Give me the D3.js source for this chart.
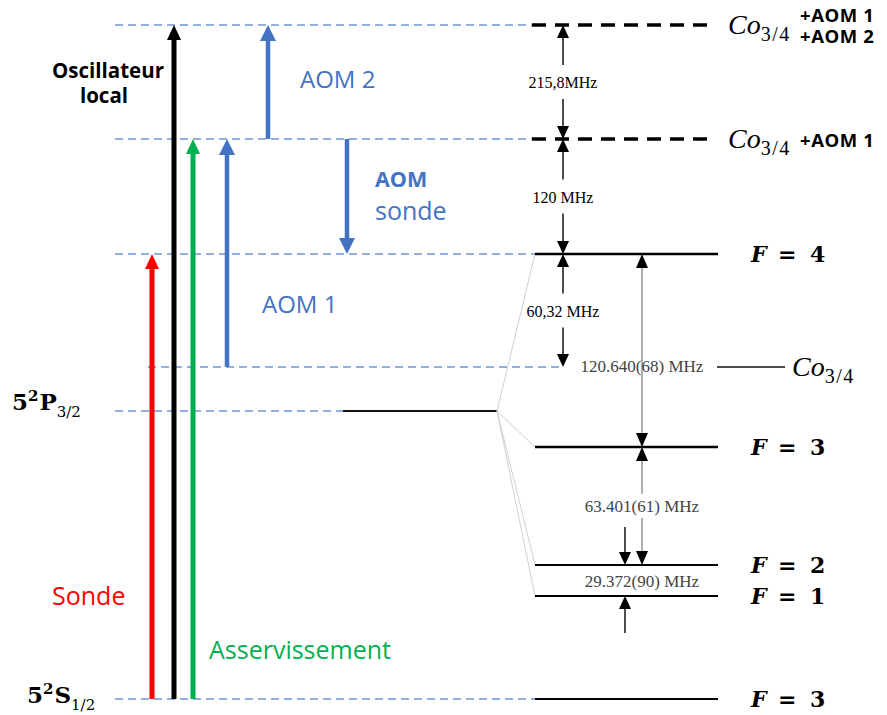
<!DOCTYPE html>
<html>
<head>
<meta charset="utf-8">
<script src="https://cdn.jsdelivr.net/npm/d3@7"></script>
<style>
  body { margin: 0; background: #fff; }
  svg { display: block; }
</style>
</head>
<body>
<svg></svg>
<script>

// energies, arbitrary units (ground state = 0)
const levelKeys   = ["coAom12", "coAom1", "f4", "co34", "p32", "f3", "f2", "f1", "s12"]
const levelEnergy = [674, 560, 445, 332, 288, 252, 134, 103, 0]
const E = Object.fromEntries(levelKeys.map((k, i) => [k, levelEnergy[i]]))

// lasers starting from the ground state
const beamNames  = ["Sonde", "Oscillateur local", "Asservissement"]
const beamTarget = ["f4", "coAom12", "coAom1"]

// AOM shifts
const aomNames = ["AOM 1", "AOM 2", "AOM sonde"]
const aomFrom  = ["co34", "coAom1", "coAom1"]
const aomTo    = ["coAom1", "coAom12", "f4"]

// hyperfine levels on the right
const hfLevels = ["f4", "f3", "f2", "f1", "s12"]
const hfValue  = ["4", "3", "2", "1", "3"]
const shiftedLevels = ["coAom12", "coAom1"]

// splittings
const gapLabels = ["215,8MHz", "120 MHz", "60,32 MHz"]
const gapLow    = ["coAom1", "f4", "co34"]
const gapHigh   = ["coAom12", "coAom1", "f4"]
const hfGapLabels = ["120.640(68) MHz", "63.401(61) MHz", "29.372(90) MHz"]

const margin = {top: 25, bottom: 16}
const width = 887, height = 715

const svg = d3.select("svg").attr("width", width).attr("height", height)

const y = d3.scaleLinear()
  .domain([0, d3.max(levelEnergy)])
  .range([height - margin.bottom, margin.top])

const blue = "#4472c4", guide = "#7094d6"
const sans = "'Open Sans', sans-serif"
const serif = "'Liberation Serif', serif"
const tex = "'DejaVu Serif', serif"

// columns (layout)
const col = {
  guide0: 115, guide1: 535, lvl0: 535, lvl1: 718,
  beams: [152, 174, 193], aoms: [227, 268, 347],
  gap: 563, hf: 642, hfSmall: 625, fLabel: 751, coLabel: 728
}

function arrow(g, x, y0, y1, o) {
  const dir = y1 < y0 ? -1 : 1
  const base = y1 - dir * o.head
  g.append("line")
    .attr("x1", x).attr("x2", x)
    .attr("y1", y0).attr("y2", base + dir * 0.5)
    .attr("stroke", o.line || o.color)
    .attr("stroke-width", o.width)
  g.append("path")
    .attr("d", `M${x},${y1}L${x - o.headW / 2},${base}L${x + o.headW / 2},${base}Z`)
    .attr("fill", o.color)
}

// blue dashed guides
const guides = [
  {k: "coAom12", x0: col.guide0, x1: col.guide1},
  {k: "coAom1", x0: col.guide0, x1: col.guide1},
  {k: "f4", x0: col.guide0, x1: col.guide1},
  {k: "co34", x0: 148, x1: col.gap},
  {k: "p32", x0: col.guide0, x1: 343},
  {k: "s12", x0: col.guide0, x1: col.guide1}
]
svg.append("g").selectAll("line").data(guides).join("line")
  .attr("x1", d => d.x0).attr("x2", d => d.x1)
  .attr("y1", d => y(E[d.k])).attr("y2", d => y(E[d.k]))
  .attr("stroke", guide).attr("stroke-width", 1.4)
  .attr("stroke-dasharray", "8,5")

// 5P3/2 centroid and fan to hyperfine levels
svg.append("line")
  .attr("x1", 343).attr("x2", 497)
  .attr("y1", y(E.p32)).attr("y2", y(E.p32))
  .attr("stroke", "#111").attr("stroke-width", 2)
svg.append("g").selectAll("line").data(["f4", "f3", "f2", "f1"]).join("line")
  .attr("x1", 497).attr("y1", y(E.p32))
  .attr("x2", col.lvl0).attr("y2", d => y(E[d]))
  .attr("stroke", "#cfcfcf").attr("stroke-width", 1)

// hyperfine levels
svg.append("g").selectAll("line").data(hfLevels).join("line")
  .attr("x1", col.lvl0).attr("x2", col.lvl1)
  .attr("y1", d => y(E[d])).attr("y2", d => y(E[d]))
  .attr("stroke", "#000").attr("stroke-width", (d, i) => i < 2 ? 2.6 : 2)

svg.append("g").selectAll("line").data(shiftedLevels).join("line")
  .attr("x1", col.lvl0 - 3).attr("x2", col.lvl1 - 3)
  .attr("y1", d => y(E[d])).attr("y2", d => y(E[d]))
  .attr("stroke", "#000").attr("stroke-width", 3.5)
  .attr("stroke-dasharray", "14,9")

// F = n labels
hfLevels.forEach((k, i) => {
  const t = svg.append("text")
    .attr("y", y(E[k]) + 8)
    .attr("font-family", tex).attr("font-weight", "bold").attr("font-size", 22)
  t.append("tspan").attr("x", col.fLabel).attr("font-style", "italic").text("F")
  t.append("tspan").attr("x", col.fLabel + 27).text("=")
  t.append("tspan").attr("x", col.fLabel + 59).text(hfValue[i])
})

// Co3/4 labels
function coLabel(x, yy) {
  const t = svg.append("text").attr("x", x).attr("y", yy + 9)
    .attr("font-family", serif).attr("font-style", "italic").attr("font-size", 28)
  t.append("tspan").text("Co")
  t.append("tspan").attr("dy", 7).attr("font-size", 20).attr("font-style", "normal")
    .attr("letter-spacing", 1.5).text("3/4")
}
coLabel(col.coLabel, y(E.coAom12))
coLabel(col.coLabel, y(E.coAom1))
coLabel(792, y(E.co34))
svg.append("line")
  .attr("x1", 717).attr("x2", 785)
  .attr("y1", y(E.co34)).attr("y2", y(E.co34))
  .attr("stroke", "#111").attr("stroke-width", 1.5)

// two stacked tags share one text element
const tagTop = svg.append("text")
  .attr("font-family", sans).attr("font-weight", "bold").attr("font-size", 18.5)
  .attr("letter-spacing", 0.6)
tagTop.append("tspan").attr("x", 800).attr("y", y(E.coAom12) - 3).text("+AOM 1")
tagTop.append("tspan").attr("x", 800).attr("y", y(E.coAom12) + 18).text("+AOM 2")
svg.append("text")
  .attr("x", 800).attr("y", y(E.coAom1) + 8)
  .attr("font-family", sans).attr("font-weight", "bold").attr("font-size", 18.5)
  .attr("letter-spacing", 0.6)
  .text("+AOM 1")

// left state labels
function stateLabel(x, yy, L, sub) {
  const t = svg.append("text").attr("x", x).attr("y", yy)
    .attr("font-family", tex).attr("font-weight", "bold").attr("font-size", 23)
  t.append("tspan").text("5")
  t.append("tspan").attr("dy", -9).attr("font-size", 15).text("2")
  t.append("tspan").attr("dy", 9).attr("dx", 1).text(L)
  t.append("tspan").attr("dy", 7).attr("font-size", 15).attr("font-weight", "normal").text(sub)
}
stateLabel(12, y(E.p32) - 1, "P", "3/2")
stateLabel(27, y(E.s12) + 4, "S", "1/2")

// lasers
const beamColors = ["#ff0000", "#000000", "#00b050"]
beamNames.forEach((n, i) => {
  arrow(svg, col.beams[i], y(0), y(E[beamTarget[i]]),
    {color: beamColors[i], width: 5, head: 15, headW: 14})
})
svg.append("text").attr("x", 52).attr("y", 605)
  .attr("font-family", sans).attr("font-size", 25).attr("fill", beamColors[0])
  .text(beamNames[0])
svg.append("text").attr("x", 209).attr("y", 659)
  .attr("font-family", sans).attr("font-size", 25).attr("fill", beamColors[2])
  .text(beamNames[2])
const osc = svg.append("text").attr("text-anchor", "middle")
  .attr("font-family", sans).attr("font-weight", "bold").attr("font-size", 20.5)
osc.append("tspan").attr("x", 108).attr("y", 78).text(beamNames[1].split(" ")[0])
osc.append("tspan").attr("x", 104).attr("y", 103).text(beamNames[1].split(" ")[1])

// AOM arrows
aomNames.forEach((n, i) => {
  arrow(svg, col.aoms[i], y(E[aomFrom[i]]), y(E[aomTo[i]]),
    {color: blue, width: 4.5, head: 16, headW: 16})
})
svg.append("text").attr("x", 262).attr("y", 313)
  .attr("font-family", sans).attr("font-size", 24).attr("fill", blue).text(aomNames[0])
svg.append("text").attr("x", 300).attr("y", 88)
  .attr("font-family", sans).attr("font-size", 24).attr("fill", blue).text(aomNames[1])
const so = svg.append("text").attr("font-family", sans).attr("fill", blue)
so.append("tspan").attr("x", 375).attr("y", 187).attr("font-weight", "bold")
  .attr("font-size", 21.5).text(aomNames[2].split(" ")[0])
so.append("tspan").attr("x", 375).attr("y", 220).attr("font-size", 25)
  .text(aomNames[2].split(" ")[1])

// splittings between the laser frequencies
const blk = {color: "#000", width: 1.4, head: 13, headW: 12}
gapLabels.forEach((lab, i) => {
  const yl = y(E[gapLow[i]]), yh = y(E[gapHigh[i]])
  const mid = (yl + yh) / 2
  arrow(svg, col.gap, mid - 17, yh, blk)
  arrow(svg, col.gap, mid + 17, yl, blk)
  svg.append("text").attr("x", col.gap).attr("y", mid + 6)
    .attr("text-anchor", "middle").attr("font-family", serif).attr("font-size", 16)
    .text(lab)
})

// hyperfine splittings
const gry = {color: "#000", line: "#9a9a9a", width: 1.6, head: 14, headW: 12}
{
  const a = y(E.f4), b = y(E.f3), c = y(E.f2), d = y(E.f1)
  const m1 = (a + b) / 2
  arrow(svg, col.hf, m1, a, gry)
  arrow(svg, col.hf, m1, b, gry)
  svg.append("text").attr("x", col.hf).attr("y", y(E.co34) + 5)
    .attr("text-anchor", "middle").attr("font-family", serif).attr("font-size", 17)
    .attr("fill", "#444").text(hfGapLabels[0])

  const m2 = (b + c) / 2
  arrow(svg, col.hf, m2 - 12, b, gry)
  arrow(svg, col.hf, m2 + 12, c, gry)
  svg.append("text").attr("x", col.hf).attr("y", m2 + 6)
    .attr("text-anchor", "middle").attr("font-family", serif).attr("font-size", 17)
    .attr("fill", "#444").text(hfGapLabels[1])

  arrow(svg, col.hfSmall, c - 38, c, blk)
  arrow(svg, col.hfSmall, d + 37, d, blk)
  svg.append("text").attr("x", col.hf).attr("y", (c + d) / 2 + 6)
    .attr("text-anchor", "middle").attr("font-family", serif).attr("font-size", 17)
    .attr("fill", "#444").text(hfGapLabels[2])
}

</script>
</body>
</html>
